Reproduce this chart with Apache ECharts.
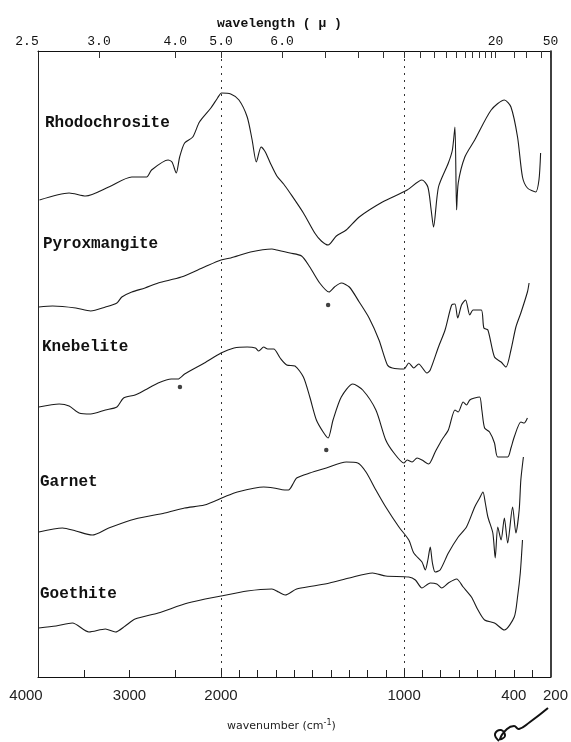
<!DOCTYPE html>
<html>
<head>
<meta charset="utf-8">
<script src="https://cdn.jsdelivr.net/npm/echarts@6/dist/echarts.min.js"></script>
<style>html,body{margin:0;padding:0;background:#fff}#c{width:571px;height:742px}</style>
</head>
<body>
<div id="c"></div>
<script>
// ---- axis ticks / labels ----
const wavenumberTicks = [3500,3000,2500,2000,1900,1800,1700,1600,1500,1400,1300,1200,1100,1000,900,800,700,600,500,400,300];
const wavenumberLabels = [4000,3000,2000,1000,400,200];
const wavelengthTicks = [3,4,5,6,7,8,9,10,11,12,13,14,15,16,17,18,19,20,25,30,40,50];
const wavelengthLabels = [2.5,3.0,4.0,5.0,6.0,20,50];
const spectrumNames = ['Rhodochrosite','Pyroxmangite','Knebelite','Garnet','Goethite'];

// ---- spectra: [wavenumber cm-1, pen position (chart units)] ----
const rhodochrosite = [[3984,47.7],[3660,48.4],[3479,48.1],[3227,49.0],[2975,50.0],[2813,50.0],[2759,50.7],[2579,51.7],[2536,51.5],[2489,50.4],[2452,52.0],[2398,53.4],[2309,54.0],[2236,55.5],[2111,56.9],[2038,57.9],[1997,58.4],[1947,58.3],[1902,57.7],[1857,56.0],[1830,53.7],[1807,51.5],[1781,53.0],[1758,52.5],[1731,51.4],[1695,50.1],[1658,49.3],[1623,48.4],[1550,46.4],[1488,44.4],[1452,43.6],[1415,43.2],[1370,44.1],[1316,44.7],[1245,46.0],[1118,47.5],[983,48.7],[902,49.7],[870,49.0],[852,46.7],[839,45.0],[812,49.0],[758,51.4],[736,52.7],[722,55.0],[713,46.7],[704,49.4],[668,52.0],[614,53.7],[524,56.7],[452,57.7],[416,57.0],[380,54.0],[353,50.0],[326,48.9],[281,48.5],[263,49.7],[254,52.4]];
const pyroxmangite = [[3991,37.0],[3840,37.1],[3587,36.9],[3425,36.6],[3263,37.0],[3138,37.4],[3084,38.0],[2975,38.5],[2831,38.9],[2687,39.4],[2435,40.0],[2182,41.0],[2000,41.7],[1947,41.9],[1839,42.5],[1722,42.8],[1695,42.7],[1623,42.4],[1560,42.1],[1515,41.0],[1461,39.4],[1410,38.5],[1380,39.0],[1343,39.4],[1299,39.0],[1245,37.5],[1191,35.9],[1137,33.7],[1091,31.2],[1064,30.9],[1001,30.8],[974,31.4],[947,30.9],[920,31.3],[875,30.4],[857,30.7],[812,33.0],[776,34.7],[740,37.2],[722,37.3],[707,35.9],[686,37.2],[664,37.7],[641,36.2],[623,36.7],[578,36.7],[564,34.9],[542,34.7],[506,32.0],[470,31.5],[443,31.0],[416,32.7],[389,35.0],[362,36.4],[326,38.5],[317,39.4]];
const knebelite = [[3991,27.0],[3768,27.3],[3660,27.1],[3551,26.4],[3425,26.3],[3263,26.7],[3138,27.0],[3065,27.9],[2939,28.2],[2831,28.7],[2687,29.4],[2543,29.8],[2471,29.8],[2398,30.3],[2182,31.4],[2000,32.4],[1929,32.9],[1857,33.0],[1812,32.9],[1794,32.6],[1767,33.0],[1745,32.8],[1712,32.8],[1677,31.9],[1641,31.2],[1596,31.1],[1550,30.0],[1515,28.0],[1479,25.7],[1442,24.5],[1415,23.9],[1388,25.7],[1343,28.0],[1280,29.3],[1226,28.7],[1154,26.7],[1100,23.7],[1055,22.4],[1001,21.4],[983,21.7],[956,21.5],[929,21.9],[902,21.7],[866,21.3],[830,22.5],[794,23.7],[758,24.7],[722,26.7],[704,26.5],[677,27.5],[659,27.2],[641,27.7],[614,27.9],[587,28.0],[575,26.7],[560,24.9],[533,24.5],[506,23.4],[488,22.0],[434,22.0],[416,22.9],[398,24.0],[362,25.5],[344,25.4],[326,25.9]];
const garnet = [[3991,14.5],[3732,14.9],[3587,14.6],[3408,14.2],[3227,14.9],[2939,15.8],[2615,16.4],[2398,16.9],[2182,17.2],[1983,18.0],[1911,18.5],[1767,19.0],[1712,18.9],[1652,18.7],[1631,18.7],[1604,19.4],[1587,19.9],[1515,20.4],[1425,20.9],[1316,21.5],[1253,21.4],[1208,20.5],[1154,18.7],[1100,17.0],[1028,15.0],[974,13.7],[947,12.4],[902,11.5],[884,10.7],[870,11.7],[857,13.0],[845,11.4],[830,10.5],[803,10.7],[758,12.4],[704,14.0],[659,15.0],[614,17.0],[587,17.9],[569,18.5],[556,17.4],[542,16.0],[515,14.4],[502,11.9],[488,15.0],[470,13.7],[452,15.9],[434,13.4],[407,17.0],[389,14.4],[371,16.7],[362,19.7],[348,22.0]];
const goethite = [[3991,4.9],[3803,5.1],[3624,5.4],[3443,4.5],[3263,4.8],[3155,4.5],[3047,5.1],[2939,5.8],[2687,6.4],[2363,7.4],[2000,8.1],[1857,8.6],[1722,8.8],[1686,8.5],[1650,8.2],[1587,8.8],[1496,9.1],[1407,9.4],[1299,9.9],[1172,10.4],[1100,10.1],[974,10.0],[938,9.7],[902,8.9],[857,9.4],[821,9.3],[794,8.9],[758,9.4],[713,9.8],[677,9.0],[632,8.0],[596,6.7],[560,5.7],[506,5.4],[452,4.7],[398,6.0],[380,8.0],[365,10.4],[353,13.7]];
const asteriskMarks = [[2449,29.0],[1415,37.2],[1425,22.7]];
const gridLinesWn = [2000,1000];

// grating-instrument abscissa: 4000-2000 at half scale, 2000-200 at full scale
function u(w){ return w >= 2000 ? (4000 - w) / 2 : 1000 + (2000 - w); }
function wFromU(x){ return x <= 1000 ? 4000 - 2 * x : 2000 - (x - 1000); }
const conv = arr => arr.map(p => [u(p[0]), p[1]]);

const chart = echarts.init(document.getElementById('c'), null, {renderer:'canvas'});
const lineStyle = {color:'#1a1a1a', width:1.1};
const spectra = [rhodochrosite, pyroxmangite, knebelite, garnet, goethite];
const series = spectra.map((s, i) => ({
  name: spectrumNames[i], type:'line', data: conv(s), showSymbol:false, symbol:'none',
  smooth:0.25, lineStyle: lineStyle, silent:true, animation:false,
  markLine: i === 0 ? {
    silent:true, symbol:'none', label:{show:false},
    lineStyle:{type:[2,5], color:'#333', width:1},
    data: gridLinesWn.map(w => ({xAxis: u(w)}))
  } : undefined
}));
series.push({type:'scatter', data: conv(asteriskMarks), symbol:'circle', symbolSize:4.5,
  itemStyle:{color:'#111'}, silent:true, animation:false});

const labelY = [124, 245, 348, 483, 595];
const labelX = [45, 43, 42, 40, 40];

const graphics = spectrumNames.map((n, i) => ({
  type:'text', left:labelX[i], top:labelY[i] - 9, silent:true,
  style:{text:n, fontFamily:'Liberation Mono', fontWeight:'bold', fontSize:16, fill:'#111'}
}));
// handwritten initial at the lower right of the sheet
graphics.push({type:'polyline', silent:true,
  shape:{points:[[499,741],[495,734],[501,730],[505,736],[500,739],[507,729],[514,726],[519,729],[530,722],[548,708]], smooth:0.5},
  style:{fill:null, stroke:'#111', lineWidth:2}});

chart.setOption({
  animation:false,
  backgroundColor:'#fff',
  title:[
    {text:'wavelength ( µ )', left:212, top:12, textStyle:{fontFamily:'Liberation Mono', fontWeight:'bold', fontSize:13, color:'#111'}},
    {text:'wavenumber (cm{s|-1})', left:222, top:714, textStyle:{fontFamily:'DejaVu Sans', fontWeight:'normal', fontSize:11, color:'#222',
      rich:{s:{fontSize:8, verticalAlign:'top', padding:[0,0,6,0], fontFamily:'DejaVu Sans', color:'#222'}}}}
  ],
  grid:{left:38, right:14, top:51, bottom:65},
  xAxis:[
    {type:'value', min:0, max:2800, position:'bottom',
     axisLine:{show:true, onZero:false, lineStyle:{color:'#111', width:1.2}},
     axisTick:{show:true, inside:true, length:7, customValues: wavenumberTicks.map(u), lineStyle:{color:'#222'}},
     axisLabel:{show:true, customValues: wavenumberLabels.map(u), margin:11,
       fontFamily:'Liberation Sans', fontSize:15, color:'#222',
       formatter: v => { const w = Math.round(wFromU(v)); return w === 4000 ? '{l|4000}' : (w === 200 ? '{r|200}' : String(w)); },
       rich:{l:{padding:[0,24,0,0], fontFamily:'Liberation Sans', fontSize:15, color:'#222'}, r:{padding:[0,0,0,10], fontFamily:'Liberation Sans', fontSize:15, color:'#222'}}},
     splitLine:{show:false}},
    {type:'value', min:0, max:2800, position:'top',
     axisLine:{show:true, onZero:false, lineStyle:{color:'#111', width:1.2}},
     axisTick:{show:true, inside:true, length:7, customValues: wavelengthTicks.map(l => u(10000 / l)), lineStyle:{color:'#333'}},
     axisLabel:{show:true, customValues: wavelengthLabels.map(l => u(10000 / l)), margin:3,
       fontFamily:'Liberation Mono', fontSize:13, color:'#111',
       formatter: v => { const lam = 10000 / wFromU(v); const s = lam < 10 ? lam.toFixed(1) : String(Math.round(lam)); return Math.abs(lam - 2.5) < 0.01 ? '{l|' + s + '}' : s; },
       rich:{l:{padding:[0,22,0,0], fontFamily:'Liberation Mono', fontSize:13, color:'#111'}}},
     splitLine:{show:false}}
  ],
  yAxis:[
    {type:'value', min:0, max:62.6, position:'left', axisLine:{show:true, onZero:false, lineStyle:{color:'#222', width:1}}, axisTick:{show:false}, axisLabel:{show:false}, splitLine:{show:false}},
    {type:'value', min:0, max:62.6, position:'right', axisLine:{show:true, onZero:false, lineStyle:{color:'#111', width:1.6}}, axisTick:{show:false}, axisLabel:{show:false}, splitLine:{show:false}}
  ],
  graphic: graphics,
  series: series
});
</script>
</body>
</html>
